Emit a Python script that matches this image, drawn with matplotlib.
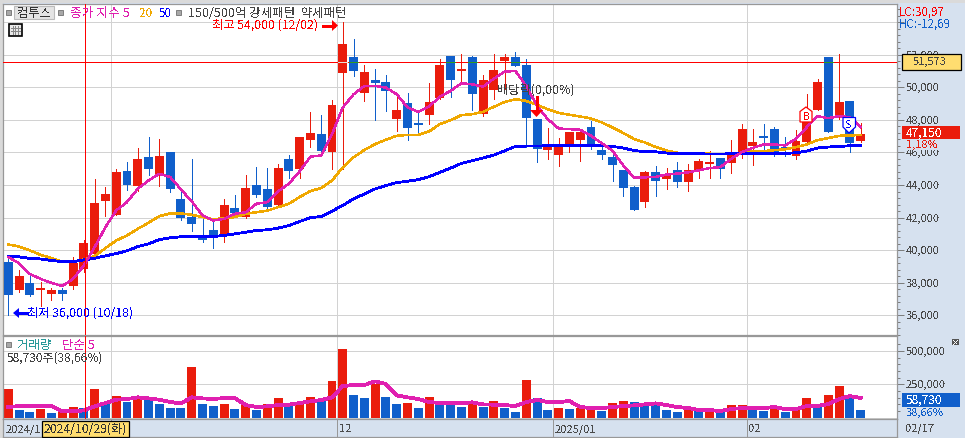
import numpy as np
import matplotlib
matplotlib.use('Agg')
import matplotlib.pyplot as plt
from matplotlib.patches import Rectangle, Polygon

plt.rcParams['font.family'] = ['Noto Sans CJK KR', 'DejaVu Sans']
plt.rcParams['text.antialiased'] = False

W, H = 965, 439
RED = '#EA1C0C'
BLUE = '#105FCB'
PINK = '#E020B0'
ORANGE = '#F0A800'
MA_BLUE = '#0000FF'
GRID = '#D2D2D2'
PANEL = '#D6E1EF'
EDGE = '#989898'
TXT = '#4A4A4A'

# open, high, low, close per day
opens = [39280,37560,37990,37580,37310,37560,37800,38850,39770,43030,42170,44880,43910,45740,44650,46045,43150,42050,40800,41250,
         40840,42600,42030,44015,43770,42800,45615,44960,46780,47150,46040,50860,51840,49650,50430,50310,48040,49020,47800,48290,
         49330,51900,50980,51840,48350,49820,51590,51840,51350,48040,46150,45840,46450,46760,47550,46150,45720,44920,43880,42960,
         44820,44390,44940,44210,44880,45310,45680,45370,45980,46410,47020,47450,46350,45800,46650,48610,51860,48180,49160,46720]
highs = [39700,38790,38480,38030,37660,37660,39570,40630,44380,43870,45000,45430,46290,46970,46840,46045,43810,45615,41990,41920,
         43150,43400,44630,45120,45060,45300,45860,46970,48500,48320,49240,54000,52940,51350,51100,50735,49670,49630,48550,50250,
         51710,51900,52020,51900,50735,52020,52020,52140,51710,48040,47490,46880,47250,47250,47920,46390,45960,44920,43940,44860,
         45190,45060,45430,45310,45610,46100,45680,46780,47760,47450,47760,47570,46960,47390,49590,50510,51860,52040,49160,47820]
lows = [36000,37450,37190,36600,36940,36940,37620,38640,39770,42110,42170,43670,43650,44590,43910,43540,41880,41150,40530,40140,
        40470,42130,41990,43240,42540,42700,44450,44450,46350,45980,44980,44980,50700,49160,48000,48530,47330,46780,47120,47740,
        49270,49390,50370,48590,48230,49270,49880,51290,46330,45410,45590,45170,46020,45470,46210,45590,44250,43330,42470,42660,
        43350,43780,43900,43660,44450,44450,44450,44760,45680,45250,45920,45800,45800,45610,46450,48610,47270,48060,46040,46650]
closes = [37250,38420,37230,37680,37560,37310,39240,40450,42910,43460,44815,44015,45615,45000,45800,43770,41990,41580,40630,40800,
          42790,42250,43830,43360,42660,45060,44880,46970,47210,46100,48900,52630,50980,50920,50250,49760,48590,47490,47680,49080,
          51350,50430,51100,49570,50430,51040,51840,51290,48100,46200,46510,46390,47250,47250,46330,45840,45230,43820,42470,44800,
          44270,44640,44210,44940,45490,45430,45000,46040,47450,46660,46900,45980,46170,46720,47940,50330,47270,49100,46590,47150]

ma5 = [39570,39200,38540,38230,37990,37800,38230,39050,40180,41410,42440,42950,43770,44280,44690,44490,43730,42990,42130,41820,
       41920,42230,42330,42850,42950,43610,44080,44840,45740,45820,47130,48760,49570,50080,50080,49980,49570,48760,48490,48820,
       49430,49780,50250,50180,50040,50530,50960,51000,50080,48860,48040,47470,47430,47390,47020,46570,46100,45190,44450,44470,
       44500,44640,44700,44780,44900,45040,45100,45610,46020,46280,46490,46490,46430,46840,47550,48230,48100,48230,48160,47550]
ma20 = [40350,40220,39980,39710,39510,39300,39300,39420,39630,40120,40590,40900,41310,41680,42090,42250,42250,42170,42030,41880,
        41970,42030,42230,42330,42420,42640,42850,43260,43630,43810,44280,45080,45700,46150,46510,46780,47020,47080,47080,47290,
        47740,47980,48290,48350,48490,48800,49100,49270,49160,48920,48650,48430,48310,48210,48080,47840,47530,47190,46820,46610,
        46330,46120,45980,45960,45960,45920,45900,45900,45980,46060,46080,46140,46190,46330,46490,46760,46880,47020,47040,47080]
ma50 = [39630,39590,39490,39460,39360,39300,39300,39400,39500,39650,39790,39960,40220,40390,40650,40760,40820,40840,40840,40840,
        40900,41000,41100,41210,41250,41350,41510,41760,41990,42070,42400,42740,43150,43450,43760,43960,44150,44230,44330,44510,
        44780,45040,45330,45490,45660,45840,46100,46370,46390,46390,46410,46410,46410,46410,46410,46410,46370,46270,46120,46040,
        46040,45960,45940,45920,45920,45900,45900,45920,45940,45940,45940,45940,45940,45980,46080,46270,46330,46370,46410,46430]

volume = [215000,57500,42500,65000,35000,47500,80000,72500,215000,115000,162500,117500,152500,132500,102500,72500,72500,380000,102500,87500,
          102500,65000,102500,57500,102500,147500,95000,102500,155000,132500,275000,515000,170000,147500,252500,155000,102500,110000,72500,155000,
          110000,102500,80000,115000,80000,125000,72500,42500,282500,147500,57500,72500,65000,72500,87500,50000,110000,125000,117500,102500,
          102500,57500,42500,72500,57500,57500,47500,95000,95000,65000,50000,87500,42500,65000,147500,80000,170000,237500,152500,58730]
# 1 = red bar, 0 = blue bar
vol_up = [1,0,0,1,0,1,1,0,1,0,1,0,1,0,0,0,0,1,0,0,
          1,0,1,0,1,1,0,1,1,0,1,1,0,0,1,0,0,1,0,1,
          0,0,0,1,0,1,0,0,1,0,0,1,0,1,1,0,1,1,0,0,
          0,0,0,1,0,1,0,1,1,0,0,1,0,1,1,0,1,1,0,0]
vol_ma5 = [80000,87500,87500,87500,87500,47500,47500,55000,85000,110000,135000,140000,152500,145000,135000,117500,107500,152500,145000,140000,
           147500,147500,95000,80000,85000,95000,97500,110000,122500,132500,152500,237500,245000,245000,272500,252500,167500,152500,140000,117500,
           110000,110000,110000,115000,100000,97500,95000,87500,117500,132500,117500,117500,125000,80000,72500,72500,80000,87500,92500,100000,
           107500,95000,80000,72500,57500,57500,50000,65000,72500,72500,72500,80000,65000,65000,87500,87500,102500,140000,162500,147500]

price_ticks = [36000,38000,40000,42000,44000,46000,48000,50000,52000,54000]
price_labels = ['36,000','38,000','40,000','42,000','44,000','46,000','48,000','50,000','52,000','']
vol_ticks = [250000,500000]
vol_labels = ['250,000','500,000']
month_pos = [-0.35,30.5,50.5,68.5]
month_labels = ['2024/1','12','2025/01','02']
month_grid = [9.5,30.5,50.5,68.5]
last_price = 51573


def axes_px(x0, y0, x1, y1):
    return fig.add_axes([x0/W, 1-y1/H, (x1-x0)/W, (y1-y0)/H])

def ftext(x, y, s, color=TXT, size=8, **kw):
    kw.setdefault('va', 'center')
    return fig.text(x/W, 1-y/H, s, color=color, fontsize=size, **kw)

def fbox(x0, y0, x1, y1, fc, ec='none', lw=0, z=5):
    fig.add_artist(Rectangle((x0/W, 1-y1/H), (x1-x0)/W, (y1-y0)/H, transform=fig.transFigure,
                             facecolor=fc, edgecolor=ec, linewidth=lw, zorder=z))

def fpoly(pts, fc, ec='none', lw=0, z=6):
    fig.add_artist(Polygon([(x/W, 1-y/H) for x, y in pts], closed=True, transform=fig.transFigure,
                           facecolor=fc, edgecolor=ec, linewidth=lw, zorder=z))

def fline(xs, ys, color, lw=0.72, z=6):
    fig.add_artist(plt.Line2D([x/W for x in xs], [1-y/H for y in ys], transform=fig.transFigure,
                              color=color, linewidth=lw, zorder=z, antialiased=False))


fig = plt.figure(figsize=(W/100, H/100), dpi=100, facecolor=PANEL)
x = np.arange(len(closes))
xlim = (-0.49, 82.36)

ax = axes_px(3, 5, 897, 336)
ax.set_xlim(xlim)
ax.set_ylim(34790, 55113)
ax.set_facecolor('white')
ax.hlines(price_ticks, xlim[0], xlim[1], color=GRID, linewidth=0.72, zorder=1, antialiased=False)
ax.vlines(month_grid, 34790, 55113, color=GRID, linewidth=0.72, zorder=1, antialiased=False)

o = np.array(opens)
c = np.array(closes)
up = c >= o
colors = np.where(up, RED, BLUE)
ax.vlines(x, lows, highs, colors=colors, linewidth=0.72, zorder=2, antialiased=False)
ax.bar(x, np.abs(c-o), bottom=np.minimum(o, c), width=0.83, color=colors, zorder=3, antialiased=False)
ax.plot(x, ma20, color=ORANGE, linewidth=1.1, zorder=4, antialiased=False)
ax.plot(x, ma50, color=MA_BLUE, linewidth=1.3, zorder=5, antialiased=False)
ax.plot(x, ma5, color=PINK, linewidth=1.05, zorder=6, antialiased=False)
ax.axhline(last_price, color='#FF0000', linewidth=0.72, zorder=7, antialiased=False)
# the crosshair is drawn xor style, so it changes colour inside the bodies
for i in x:
    if min(o[i], c[i]) <= last_price <= max(o[i], c[i]):
        ax.hlines(last_price, i-0.415, i+0.415, color='#E8E0D8' if up[i] else '#2E9A20', linewidth=0.72, zorder=8, antialiased=False)
ax.axvline(7.15, color='#FF0000', linewidth=0.72, zorder=7, antialiased=False)

ax.tick_params(left=False, labelleft=False, bottom=False, labelbottom=False, right=True, labelright=False,
               which='both', direction='out', color='#7A7A7A', width=0.7)
ax.yaxis.tick_right()
ax.set_yticks(price_ticks)
ax.set_yticks(np.arange(34800, 55000, 400), minor=True)
ax.tick_params(axis='y', which='major', length=5, labelright=False)
ax.tick_params(axis='y', which='minor', length=2.5)
for s in ax.spines.values():
    s.set_color(EDGE)
    s.set_linewidth(0.9)
for t, lab in zip(price_ticks, price_labels):
    ax.annotate(lab, (1, t), xycoords=('axes fraction', 'data'), xytext=(6, 0), textcoords='offset points',
                color=TXT, fontsize=8, va='center', annotation_clip=False, zorder=2)

axv = axes_px(3, 336.5, 897, 419.5)
axv.set_xlim(xlim)
axv.set_ylim(-6000, 616500)
axv.set_facecolor('white')
axv.hlines([0]+vol_ticks, xlim[0], xlim[1], color=GRID, linewidth=0.72, zorder=1, antialiased=False)
axv.vlines(month_grid, -6000, 616500, color=GRID, linewidth=0.72, zorder=1, antialiased=False)
axv.bar(x, volume, width=0.83, color=[RED if u else BLUE for u in vol_up], zorder=2, antialiased=False)
axv.plot(x, vol_ma5, color=PINK, linewidth=2, zorder=3, antialiased=False)
axv.axvline(7.15, color='#FF0000', linewidth=0.72, zorder=4, antialiased=False)
axv.yaxis.tick_right()
axv.set_yticks(vol_ticks)
axv.set_yticks(np.arange(50000, 600000, 50000), minor=True)
axv.tick_params(axis='y', which='major', length=5, labelright=False, color='#7A7A7A', width=0.7)
axv.tick_params(axis='y', which='minor', length=2.5, color='#7A7A7A', width=0.7)
axv.tick_params(bottom=False, labelbottom=False)
for s in axv.spines.values():
    s.set_color(EDGE)
    s.set_linewidth(0.9)
for t, lab in zip(vol_ticks, vol_labels):
    axv.annotate(lab, (1, t), xycoords=('axes fraction', 'data'), xytext=(6, 0), textcoords='offset points',
                 color=TXT, fontsize=8, va='center', annotation_clip=False)

axd = axes_px(3, 420, 897, 437.5)
axd.set_xlim(xlim)
axd.set_ylim(0, 1)
axd.set_facecolor(PANEL)
axd.set_yticks([])
axd.set_xticks([])
axd.vlines(month_grid, 0, 1, color=EDGE, linewidth=0.72, antialiased=False)
for p, lab in zip(month_pos, month_labels):
    axd.text(p+0.12, 0.47, lab, color=TXT, fontsize=8, va='center')
for s in axd.spines.values():
    s.set_color(EDGE)
    s.set_linewidth(0.9)
ftext(906, 429, '02/17', size=8)

# date tooltip
fbox(41.5, 421.5, 128.5, 437.5, '#FFDD70', 'black', 0.9)
ftext(44, 429, '2024/10/29(화)', color='#333333', size=8.8, zorder=7)

# top strip
fbox(0, 0, W, 3.5, '#DADADA', z=4)
fbox(0, 0, 3, H, '#DADADA', z=0)
for x0, x1 in [(0, 752), (754, 794), (796, 836), (838, 866)]:
    fbox(x0, 0, x1, 1, '#8C8C8C', z=5)

# header
for sx in [8, 60, 178]:
    fbox(sx-2.5, 10.5, sx+2.5, 15.5, '#A8A8A8', '#707070', 0.6)
fbox(13.5, 7, 54, 20, '#E4E4E4', '#BBBBBB', 0.8)
ftext(17, 13.5, '컴투스', color='#333333', size=8.8, zorder=7)
ftext(70, 13.5, '종가 지수 5', color=PINK, size=9.2, zorder=7)
ftext(139, 13.5, '20', color=ORANGE, size=8.4, zorder=7)
ftext(159, 13.5, '50', color=MA_BLUE, size=8.4, zorder=7)
ftext(188, 13.5, '150/500억 강세패턴  약세패턴', color='#444444', size=9, zorder=7)

# table icon
fbox(8.5, 24.5, 21.5, 37, '#E8E8E8', 'black', 1.2)
for gx in [12.5, 15, 18]:
    fline([gx, gx], [27, 35], '#888888')
for gy in [29, 32]:
    fline([10.5, 20], [gy, gy], '#888888')

# high / low notes
ftext(212, 25.5, '최고 54,000 (12/02)', color='#FF0000', size=8.8, zorder=7)
fline([323, 334], [26.5, 26.5], '#FF0000', 0.9)
fpoly([(332, 21), (338, 26.5), (332, 32)], '#FF0000')
ftext(27, 313.5, '최저 36,000 (10/18)', color=MA_BLUE, size=8.8, zorder=7)
fline([17, 27], [314, 314], MA_BLUE, 0.9)
fpoly([(13, 314), (19, 309), (19, 319)], MA_BLUE)

# dividend note
ftext(497, 90, '배당락(0,00%)', color='#444444', size=8.8, zorder=7)
fline([536.5, 536.5], [98, 112], '#FF0000', 0.9)
fpoly([(530, 111), (543, 111), (536.5, 118)], '#FF0000')

# buy / sell flags
fpoly([(806, 108), (812, 112.5), (812, 123), (800, 123), (800, 112.5)], 'white', '#FF0000', 0.9)
ftext(806, 116.5, 'B', color='#FF0000', size=7.5, ha='center', zorder=7)
fpoly([(843, 118.5), (855.5, 118.5), (855.5, 128), (849, 134), (843, 128)], 'white', MA_BLUE, 0.9)
ftext(849, 125, 'S', color=MA_BLUE, size=7.5, ha='center', zorder=7)

# volume header
fbox(5.5, 342.5, 10.5, 347.5, '#A8A8A8', '#707070', 0.6)
ftext(17, 345.5, '거래량', color='#2A9A9A', size=9, zorder=7)
ftext(62, 345.5, '단순 5', color=PINK, size=9, zorder=7)
ftext(7, 358, '58,730주(38,66%)', color='#444444', size=8.6, zorder=7)

# right side boxes
ftext(899, 12, 'LC:30,97', color='#FF0000', size=8.4, zorder=7)
ftext(899, 24, 'HC:-12,69', color=BLUE, size=8.4, zorder=7)
fbox(901.5, 54.5, 961, 70.5, '#FFDD70', 'black', 0.9)
ftext(913, 62, '51,573', color='#444444', size=8, zorder=7)
fbox(902, 127, 960, 140, RED)
ftext(906, 133.5, '47,150', color='white', size=8.6, zorder=7)
# this label sits on a patch in the reference and hides the top of 46,000
fbox(904, 140, 950, 150.5, PANEL)
ftext(906, 145, '1,18%', color=RED, size=8, zorder=7)
fbox(902, 394, 960, 407.5, BLUE)
ftext(906, 400.5, '58,730', color='white', size=8.6, zorder=7)
ftext(906, 413, '38,66%', color=BLUE, size=8, zorder=7)
fbox(952, 340, 959, 346, '#555555')
ftext(955.5, 342.8, '×', color='white', size=5, ha='center', zorder=7)

fig.savefig('out.png', dpi=100, facecolor=fig.get_facecolor())
